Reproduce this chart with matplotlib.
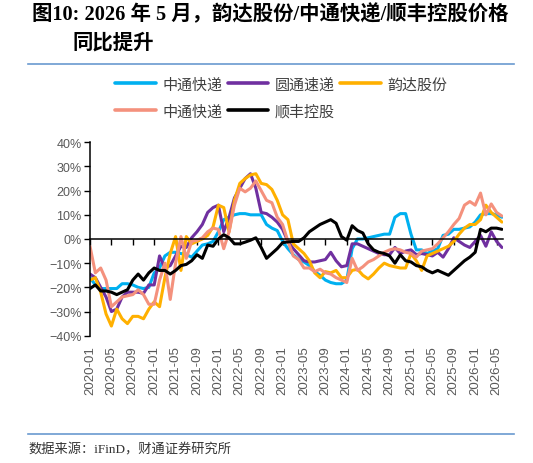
import numpy as np
import matplotlib
matplotlib.use("Agg")
import matplotlib.pyplot as plt
from matplotlib.lines import Line2D

# 月度同比涨跌幅（%），2020-01 ~ 2026-06
zto_a = [-16, -19, -20.5, -20.5, -20.5, -20.5, -18.5, -18.5, -19, -20,
         -20.5, -20, -14, -12, -7, -5.5, -5.5, -6, -6.5, -7.5,
         -5, -2.5, -2, -1, 3, 8, 9, 10, 10.5, 10.5,
         10, 10, 10, 6, 4.5, 3.5, -1, -4, -6.5, -8.5,
         -9.5, -11, -13.5, -15, -17, -18, -18.5, -18.5, -17, -4,
         0, 0, 0.5, 1, 1.5, 2, 2, 9, 10.5, 10.5,
         2, -4.5, -4.5, -6, -5, -4, 1.5, 2, 4, 4,
         4.5, 5, 7, 10, 10.5, 10.5, 10, 9]
yto = [-14.5, -16, -20, -24, -30, -29, -24, -22, -22, -22,
       -22.5, -19, -19, -7, -12, -11, -7, -3, -3.5, 0.5,
       3, 6, 11, 13, 14, 3, 9, 17, 21, 25,
       27, 21, 11, 10.5, 9, 7, 4, -1, -4, -6.5,
       -9, -9.5, -9.5, -9, -8.5, -5.5, -9, -11.5, -11, -2,
       -2, -3, -4, -5, -6, -6.5, -6.5, -3.5, -6, -5,
       -4.5, -6.5, -6, -6.5, -7, -5.5, -7.5, -4, 0.5, -1,
       -2.5, -3.5, -1, 1.5, -3, 3, -1, -3.5]
yunda = [-17, -16, -22, -31, -36, -29, -33, -35, -32, -32,
         -33, -29, -26, -28, -16, -6, 1, -13, 1, -2,
         -1, 0, 1.5, 5, 14, 13, 3, 16, 23, 25,
         26.5, 27, 23, 22.5, 20.5, 16, 10, 8, -2, -4,
         -6, -9, -14, -16, -13.5, -14, -13, -16, -16, -13,
         -12.5, -15, -16.5, -14.5, -12, -10, -11, -11.5, -12, -12,
         -6, -9, -13, -7, -6, -5, -4, -3, -1, 2,
         4.5, 6, 6, 8, 14, 11, 9, 7]
zto_b = [-3, -14, -12, -17, -28, -26, -24, -23.5, -23, -21,
         -23, -27, -27, -17, -10, -25, -10, 1, -8, -1,
         -0.5, 0.5, 3, 4.5, 4, -4, 3, 14, 21, 19.5,
         21, 24, 20, 16, 15, 9, 6, -1, -7, -8.5,
         -12, -12, -13.5, -12.5, -14, -14.5, -16, -17, -18, -8,
         -13, -11.5, -9.5, -8.5, -7, -5.5, -4.5, -4, -4.5, -5.5,
         -6, -7.5, -5, -4.5, -4, -2, 0.5, 3, 6, 8.5,
         14, 15.5, 14, 19, 10, 14.5, 11, 9.5]
sf = [-20.5, -19, -21.5, -21.5, -22, -23, -22, -21, -17, -14.5,
      -17, -14, -12, -13, -13, -14.5, -13, -11, -10.5, -9,
      -6.5, -8, -2.5, -3, 0, 1.8, 0.5, -2, -2, -1.3,
      -0.5, 0.5, -3.5, -8, -6, -4, -1.5, -1.2, -1, -1,
      0.5, 3, 4.5, 6, 7, 8, 6.5, 1, -0.5, 5.5,
      3.5, 2.5, -2, -4.5, -5.5, -6, -7, -10, -6.5, -9,
      -9.5, -11, -11.5, -13, -14, -13, -14, -15, -13, -11,
      -9, -7.5, -5.5, 4, 3, 4.5, 4.5, 4]

names = ['中通快递', '圆通速递', '韵达股份', '中通快递', '顺丰控股']
colors = ['#00B0F0', '#7030A0', '#FFB000', '#F4917D', '#000000']

tick_labels = ['2020-01', '2020-05', '2020-09', '2021-01', '2021-05', '2021-09',
               '2022-01', '2022-05', '2022-09', '2023-01', '2023-05', '2023-09',
               '2024-01', '2024-05', '2024-09', '2025-01', '2025-05', '2025-09',
               '2026-01', '2026-05']

cjk = ['Noto Sans CJK SC', 'DejaVu Sans']
serif_cjk = ['Liberation Serif', 'Noto Sans CJK SC']

fig = plt.figure(figsize=(5.33, 4.64), dpi=100)
W, H = 533, 464
ax = fig.add_axes([90 / W, (H - 336.7) / H, (503 - 90) / W, (336.7 - 143.3) / H])

x = np.arange(len(sf))
lines = []
for ser, c, n in zip([zto_a, yto, yunda, zto_b, sf], colors, names):
    ln, = ax.plot(x, ser, color=c, lw=2.2, label=n, solid_joinstyle='round',
                  solid_capstyle='round')
    lines.append(ln)

ax.set_xlim(0, 77.2)
ax.set_ylim(-40, 40)

# 坐标轴：x 轴画在 0 处，标签放在底部
for s in ['top', 'right']:
    ax.spines[s].set_visible(False)
ax.spines['bottom'].set_position(('data', 0))
ax.spines['bottom'].set_linewidth(1.1)
ax.spines['left'].set_linewidth(1.1)

ticks = np.arange(0, 77, 4)
ax.set_xticks(ticks)
ax.tick_params(axis='x', direction='out', length=4, width=1, labelbottom=False)

yt = np.arange(-40, 41, 10)
ax.set_yticks(yt)
ax.set_yticklabels([f"{v}%".replace('-', '\u2212') for v in yt],
                   family='Liberation Sans', fontsize=9, color='#595959')
ax.tick_params(axis='y', direction='out', length=4, width=1, pad=2)

secax = ax.secondary_xaxis('bottom')
secax.set_xticks(ticks)
secax.set_xticklabels(tick_labels, rotation=90, family='Liberation Sans',
                      fontsize=9.5, color='#595959')
secax.tick_params(length=0, pad=7)
secax.spines['bottom'].set_visible(False)

# 图例（按列填充，调整顺序使每行排列与原图一致）
order = [0, 3, 1, 4, 2]
leg = fig.legend([lines[i] for i in order], [names[i] for i in order],
                 loc='upper left', bbox_to_anchor=(115 / W, 1 - 78 / H),
                 ncol=3, frameon=False, prop={'family': cjk, 'size': 10.8},
                 handlelength=2.7, handletextpad=0.45, columnspacing=0.35,
                 labelspacing=0.85, borderpad=0, borderaxespad=0)
for t in leg.get_texts():
    t.set_color('#404040')
for h in leg.get_lines():
    h.set_linewidth(2.6)

# 标题
fig.text(32 / W, 1 - 15 / H, '图10: 2026 年 5 月，韵达股份/中通快递/顺丰控股价格',
         family=serif_cjk, fontsize=14.7, fontweight='bold', va='center', ha='left')
fig.text(72 / W, 1 - 44 / H, '同比提升',
         family=serif_cjk, fontsize=14.7, fontweight='bold', va='center', ha='left')

fig.add_artist(Line2D([28 / W, 514 / W], [1 - 65 / H] * 2, color='#6A9AD0', lw=1.2))
fig.add_artist(Line2D([28 / W, 514 / W], [1 - 435 / H] * 2, color='#6A9AD0', lw=1.2))

fig.text(28 / W, 1 - 450 / H, '数据来源：iFinD，财通证券研究所',
         family=serif_cjk, fontsize=9.5, color='#333333', va='center', ha='left')

fig.savefig('out.png', dpi=100)
